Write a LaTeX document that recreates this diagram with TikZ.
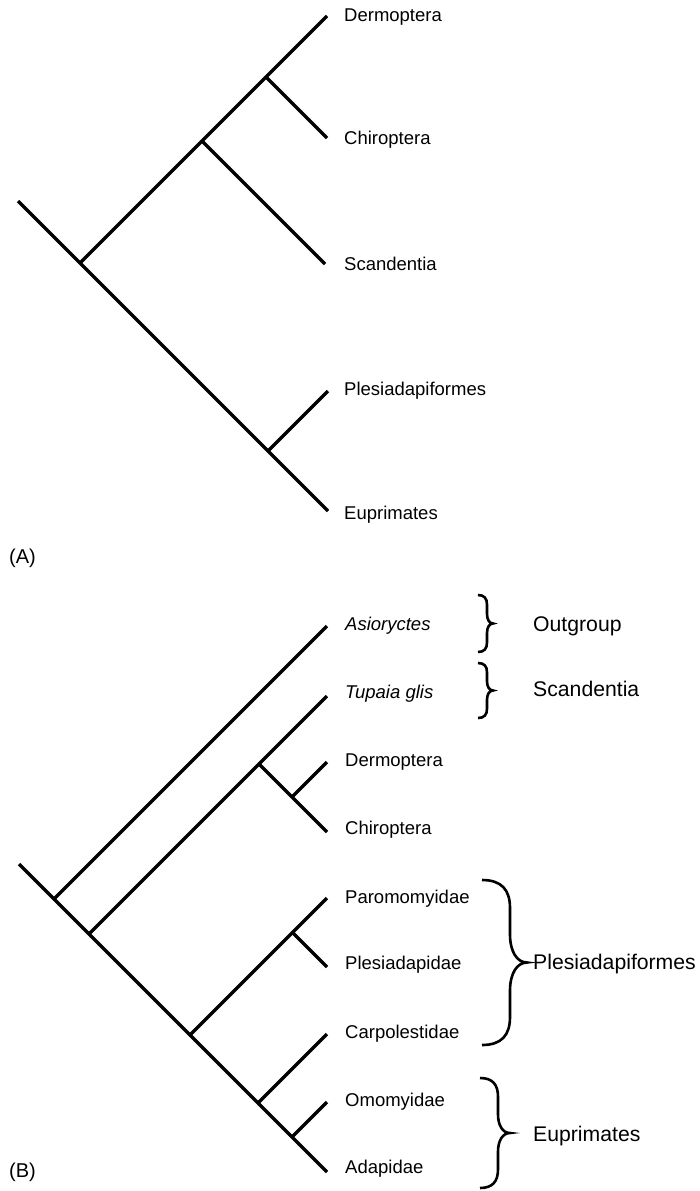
\documentclass[tikz,border=0pt]{standalone}
\usepackage{fontspec}
\setmainfont{Liberation Sans}
\newcommand{\curlybrace}[5]{% #1 hook x, #2 top y, #3 bottom y, #4 stem x, #5 tip x
  \pgfmathsetmacro{\bym}{(#2+#3)/2}
  \pgfmathsetmacro{\br}{0.17*(#3-#2)}
  \draw[bracestyle] (#1,#2)
    .. controls ({#1+0.7*(#4-#1)},#2) and (#4,{#2+0.35*\br}) .. (#4,{#2+\br})
    -- (#4,{\bym-\br})
    .. controls (#4,{\bym-0.4*\br}) and ({#4+0.4*(#5-#4)},\bym) .. (#5,\bym)
    .. controls ({#4+0.4*(#5-#4)},\bym) and (#4,{\bym+0.4*\br}) .. (#4,{\bym+\br})
    -- (#4,{#3-\br})
    .. controls (#4,{#3-0.35*\br}) and ({#1+0.7*(#4-#1)},#3) .. (#1,#3);
}
\begin{document}
\begin{tikzpicture}[x=1pt,y=-1pt,
  branch/.style={line width=3.3pt},
  bracestyle/.style={line width=2.6pt},
  taxon/.style={anchor=base west, inner sep=0pt, font=\fontsize{18.5}{22}\selectfont},
  group/.style={anchor=base west, inner sep=0pt, font=\fontsize{21.2}{25}\selectfont},
  panel/.style={anchor=base west, inner sep=0pt, font=\fontsize{20}{24}\selectfont}]
\useasboundingbox (0,0) rectangle (699,1191);

% ---------------- Panel A ----------------
\coordinate (aR)  at (18,201);
\coordinate (aJ1) at (80,263);
\coordinate (aJ2) at (202,141);
\coordinate (aJ3) at (266,77);
\coordinate (aJ4) at (268,451);
\coordinate (aDer) at (327,16);
\coordinate (aChi) at (327,138);
\coordinate (aSca) at (325,264);
\coordinate (aPle) at (328,391);
\coordinate (aEup) at (328,511);

\draw[branch] (aR) -- (aJ1) -- (aJ4) -- (aEup);
\draw[branch] (aJ1) -- (aJ2) -- (aJ3) -- (aDer);
\draw[branch] (aJ3) -- (aChi);
\draw[branch] (aJ2) -- (aSca);
\draw[branch] (aJ4) -- (aPle);

\node[taxon] (laDer) at (344,21.6) {Dermoptera};
\node[taxon] (laChi) at (344,144.6) {Chiroptera};
\node[taxon] (laSca) at (344,270.6) {Scandentia};
\node[taxon] (laPle) at (344,395.6) {Plesiadapiformes};
\node[taxon] (laEup) at (344,519.6) {Euprimates};

\node[panel] (pA) at (9,563) {(A)};

% ---------------- Panel B ----------------
\coordinate (bR)  at (19,864);
\coordinate (bJ1) at (54,899);
\coordinate (bJ2) at (89,934);
\coordinate (bJ3) at (259,764);
\coordinate (bJ4) at (292,797);
\coordinate (bJ5) at (190,1035);
\coordinate (bJ6) at (292.5,932.5);
\coordinate (bJ7) at (258,1103);
\coordinate (bJ8) at (292,1137);
\coordinate (bAsi) at (327,626);
\coordinate (bTup) at (327,696);
\coordinate (bDer) at (327,762);
\coordinate (bChi) at (327,832);
\coordinate (bPar) at (327,898);
\coordinate (bPld) at (327,967);
\coordinate (bCar) at (327,1034);
\coordinate (bOmo) at (327,1102);
\coordinate (bAda) at (327,1172);

\draw[branch] (bR) -- (bJ1) -- (bJ2) -- (bJ5) -- (bJ7) -- (bJ8) -- (bAda);
\draw[branch] (bJ1) -- (bAsi);
\draw[branch] (bJ2) -- (bJ3) -- (bTup);
\draw[branch] (bJ3) -- (bJ4) -- (bChi);
\draw[branch] (bJ4) -- (bDer);
\draw[branch] (bJ5) -- (bJ6) -- (bPar);
\draw[branch] (bJ6) -- (bPld);
\draw[branch] (bJ7) -- (bCar);
\draw[branch] (bJ8) -- (bOmo);

\node[taxon] (lbAsi) at (345,630.2) {\itshape Asioryctes};
\node[taxon] (lbTup) at (345,698.6) {\itshape Tupaia glis};
\node[taxon] (lbDer) at (345,766.6) {Dermoptera};
\node[taxon] (lbChi) at (345,834.6) {Chiroptera};
\node[taxon] (lbPar) at (345,903.6) {Paromomyidae};
\node[taxon] (lbPld) at (345,969.6) {Plesiadapidae};
\node[taxon] (lbCar) at (345,1038.6) {Carpolestidae};
\node[taxon] (lbOmo) at (345,1106.6) {Omomyidae};
\node[taxon] (lbAda) at (345,1173.6) {Adapidae};

\curlybrace{478}{595}{652}{487}{493}
\curlybrace{478}{663}{718}{487}{493}
\curlybrace{482}{880}{1045}{510}{527}
\curlybrace{480}{1078}{1188}{498}{510}

\node[group] (gOut) at (533,631.1) {Outgroup};
\node[group] (gSca) at (533,696.6) {Scandentia};
\node[group] (gPle) at (533,969.6) {Plesiadapiformes};
\node[group] (gEup) at (533,1141.1) {Euprimates};

\node[panel] (pB) at (9,1177) {(B)};
\end{tikzpicture}
\end{document}
